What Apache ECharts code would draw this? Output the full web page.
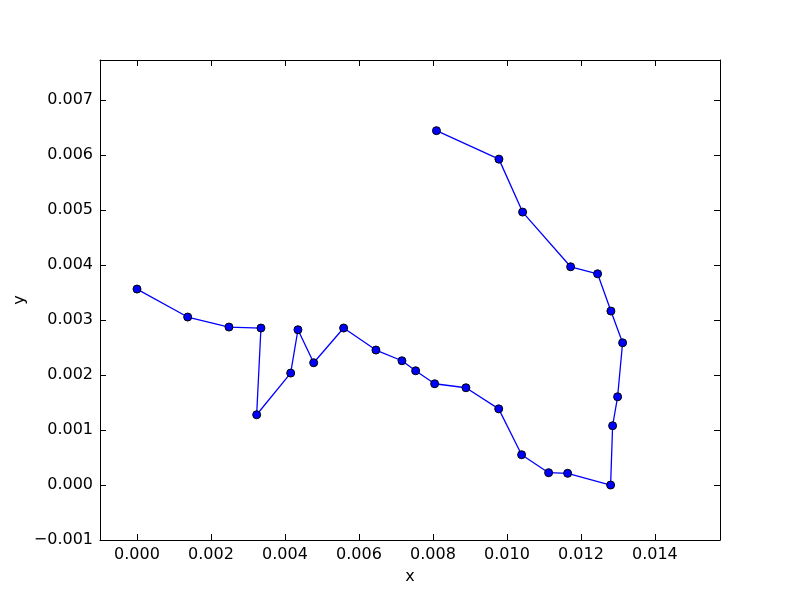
<!DOCTYPE html>
<html>
<head>
<meta charset="utf-8">
<script src="https://cdn.jsdelivr.net/npm/echarts@6/dist/echarts.min.js"></script>
<style>html,body{margin:0;padding:0;background:#fff}#c{width:800px;height:600px}</style>
</head>
<body>
<div id="c"></div>
<script>
const xValues = [0.0000, 0.001370, 0.002486, 0.003351, 0.003235, 0.004154, 0.004351, 0.004776, 0.005586, 0.006459,
  0.007162, 0.007532, 0.008046, 0.008892, 0.009778, 0.010397, 0.011127, 0.011641, 0.012803, 0.012857,
  0.012992, 0.013127, 0.012811, 0.012451, 0.011722, 0.010424, 0.009784, 0.008095];
const yValues = [0.003564, 0.003055, 0.002873, 0.002855, 0.001278, 0.002036, 0.002824, 0.002224, 0.002855, 0.002455,
  0.002260, 0.002078, 0.001842, 0.001769, 0.001385, 0.000551, 0.000224, 0.000213, 0.000000, 0.001078,
  0.001605, 0.002587, 0.003164, 0.003842, 0.003969, 0.004964, 0.005927, 0.006445];
const xTicks = [0.000, 0.002, 0.004, 0.006, 0.008, 0.010, 0.012, 0.014];
const yTicks = [-0.001, 0.000, 0.001, 0.002, 0.003, 0.004, 0.005, 0.006, 0.007];
const xRange = [-0.001, 0.01576];
const yRange = [-0.001, 0.00773];

const fmt = v => (v < -1e-9 ? '\u2212' : '') + Math.abs(v).toFixed(3);
const font = 'DejaVu Sans';
const lineStyle = {color: '#000', width: 1};

function xAxis(pos, showLabel) {
  return {
    type: 'value', position: pos, min: xRange[0], max: xRange[1],
    name: showLabel ? 'x' : '', nameLocation: 'middle', nameGap: 29, nameMoveOverlap: false,
    nameTextStyle: {fontFamily: font, fontSize: 16, color: '#000'},
    axisLine: {show: true, onZero: false, lineStyle},
    axisTick: {show: true, inside: true, length: 6, lineStyle, customValues: xTicks},
    axisLabel: {show: showLabel, customValues: xTicks, formatter: fmt, margin: 7,
      fontFamily: font, fontSize: 16, color: '#000'},
    splitLine: {show: false}
  };
}
function yAxis(pos, showLabel) {
  return {
    type: 'value', position: pos, min: yRange[0], max: yRange[1],
    name: showLabel ? 'y' : '', nameLocation: 'middle', nameGap: 72, nameMoveOverlap: false,
    nameTextStyle: {fontFamily: font, fontSize: 16, color: '#000'},
    axisLine: {show: true, onZero: false, lineStyle},
    axisTick: {show: true, inside: true, length: 6, lineStyle, customValues: yTicks},
    axisLabel: {show: showLabel, customValues: yTicks, formatter: fmt, margin: 7,
      fontFamily: font, fontSize: 16, color: '#000'},
    splitLine: {show: false}
  };
}

const chart = echarts.init(document.getElementById('c'), null, {renderer: 'canvas'});
chart.setOption({
  animation: false,
  backgroundColor: '#fff',
  grid: {left: 100, right: 80, top: 60, bottom: 60, containLabel: false},
  xAxis: [xAxis('bottom', true), xAxis('top', false)],
  yAxis: [yAxis('left', true), yAxis('right', false)],
  series: [{
    type: 'line',
    xAxisIndex: 0, yAxisIndex: 0,
    data: xValues.map((x, i) => [x, yValues[i]]),
    symbol: 'circle', symbolSize: 8, showSymbol: true,
    lineStyle: {color: '#0000ff', width: 1.3},
    itemStyle: {color: '#0000ff', borderColor: '#000', borderWidth: 1},
    z: 3
  }]
});
</script>
</body>
</html>
